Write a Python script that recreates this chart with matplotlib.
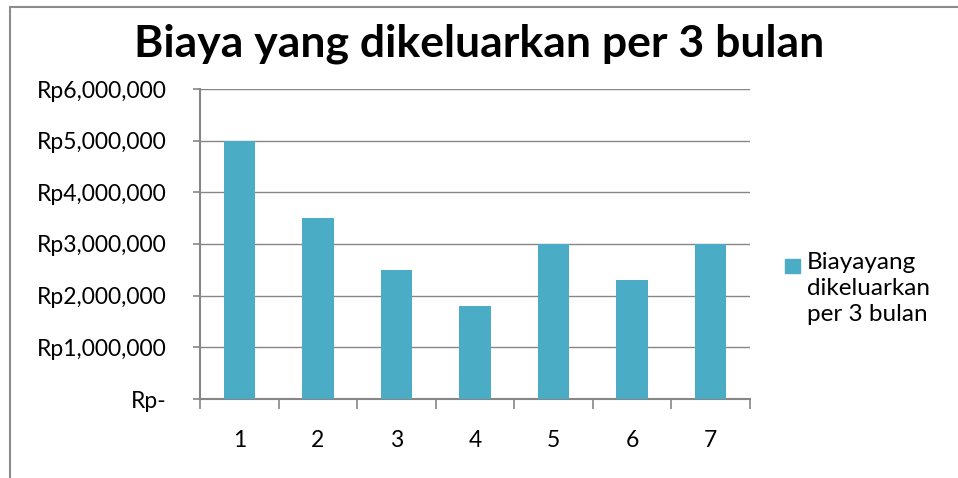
import matplotlib.pyplot as plt
from matplotlib.patches import Rectangle

kuartal = ['1', '2', '3', '4', '5', '6', '7']
biaya = [5000000, 3500000, 2500000, 1800000, 3000000, 2300000, 3000000]
yticks = [0, 1000000, 2000000, 3000000, 4000000, 5000000, 6000000]
ylabels = ['Rp-', 'Rp1,000,000', 'Rp2,000,000', 'Rp3,000,000',
           'Rp4,000,000', 'Rp5,000,000', 'Rp6,000,000']
seri = 'Biayayang\ndikeluarkan\nper 3 bulan'
warna = '#4bacc6'

plt.rcParams['font.family'] = ['Lato', 'DejaVu Sans']

fig = plt.figure(figsize=(9.58, 4.78), dpi=100)
ax = fig.add_axes([200/958, 1 - 399/478, 550/958, 310/478])

# chart border (only left/top visible in original)
fig.patches.append(Rectangle((10/958, -0.1), 1.2, 1 - 7/478 + 0.1,
                             transform=fig.transFigure, fill=False,
                             edgecolor='#8c8c8c', linewidth=1.5))

x = range(len(kuartal))
ax.bar(x, biaya, width=0.4, color=warna, zorder=3)
ax.set_xlim(-0.5, len(kuartal) - 0.5)
ax.set_ylim(0, 6000000)
ax.set_yticks(yticks)
ax.set_yticklabels(ylabels)
ax.set_xticks(list(x))
ax.set_xticklabels(kuartal)
ax.set_xticks([i - 0.5 for i in range(len(kuartal) + 1)], minor=True)

ax.grid(axis='y', color='#868686', linewidth=1, zorder=0)
for s in ['top', 'right']:
    ax.spines[s].set_visible(False)
for s in ['left', 'bottom']:
    ax.spines[s].set_color('#868686')
    ax.spines[s].set_linewidth(1.5)

ax.tick_params(axis='y', length=5, width=1.2, color='#868686',
               labelsize=16.5, pad=19)
ax.tick_params(axis='x', which='major', length=0, labelsize=16.5, pad=22)
ax.tick_params(axis='x', which='minor', length=7, width=1.2, color='#868686')

fig.text(0.5, 1 - 44/478, 'Biaya yang dikeluarkan per 3 bulan',
         ha='center', va='center', fontsize=32, fontweight='bold')

# legend, drawn by hand so the key sits next to the first line
fig.patches.append(Rectangle((785/958, 1 - 273/478), 15/958, 14/478,
                             transform=fig.transFigure, color=warna))
fig.text(807/958, 1 - 252/478, seri, ha='left', va='top',
         fontsize=17.5, linespacing=1.3)

fig.savefig('out.png', dpi=100)
